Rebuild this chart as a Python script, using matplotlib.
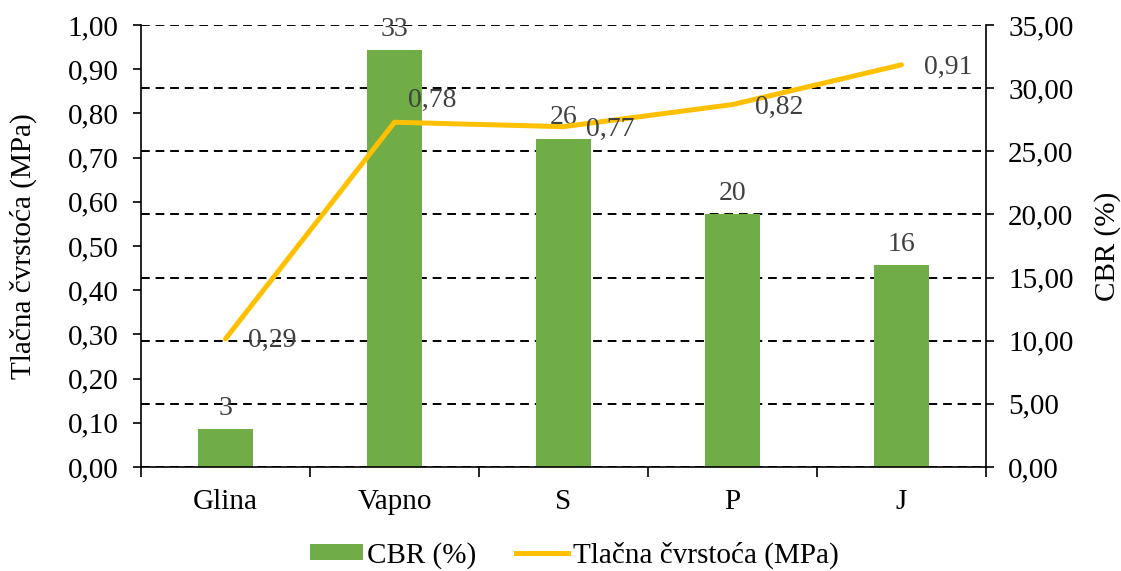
import matplotlib
matplotlib.use("Agg")
import matplotlib.pyplot as plt
from matplotlib.ticker import FuncFormatter, MultipleLocator
from matplotlib.lines import Line2D
from matplotlib.patches import Patch

# Data
categories = ["Glina", "Vapno", "S", "P", "J"]
cbr_values = [3, 33, 26, 20, 16]                   # CBR (%) - right axis
strength_values = [0.29, 0.78, 0.77, 0.82, 0.91]   # Tlačna čvrstoća (MPa) - left axis

bar_color = "#70AD47"
line_color = "#FFC000"
label_color = "#404040"

plt.rcParams["font.family"] = ["Liberation Serif", "DejaVu Serif"]
FS = 21


def comma(v, _pos=None):
    return f"{v:.2f}".replace(".", ",")


fig = plt.figure(figsize=(11.21, 5.71), dpi=100)
ax1 = fig.add_axes([141 / 1121, 1 - 467 / 571, (986 - 141) / 1121, (467 - 25) / 571])
ax2 = ax1.twinx()

# left axis (line) drawn above right axis (bars + grid)
ax1.set_zorder(ax2.get_zorder() + 1)
ax1.patch.set_visible(False)

x = list(range(len(categories)))

# Bars on the CBR axis
ax2.bar(x, cbr_values, width=0.32, color=bar_color, zorder=2)
for xi, v in zip(x, cbr_values):
    ax2.annotate(f"{v}", (xi, v), xytext=(0, 6), textcoords="offset points",
                 ha="center", va="bottom", fontsize=FS - 1, color=label_color, zorder=4)

ax2.set_ylim(0, 35)
ax2.yaxis.set_major_locator(MultipleLocator(5))
ax2.yaxis.set_major_formatter(FuncFormatter(comma))
ax2.set_axisbelow(True)
ax2.grid(axis="y", color="black", linestyle=(0, (4.5, 3)), linewidth=1.4)
ax2.set_ylabel("CBR (%)", fontsize=FS, labelpad=15)
ax2.tick_params(axis="y", labelsize=FS, length=6, width=1.2, pad=10, direction="out")

# Line on the strength axis
ax1.plot(x, strength_values, color=line_color, linewidth=3.6, solid_capstyle="round",
         solid_joinstyle="round", zorder=3)
label_offsets = [(16, -1), (10, 16), (16, -2), (16, -2), (16, -2)]
for xi, v, off in zip(x, strength_values, label_offsets):
    ax1.annotate(comma(v), (xi, v), xytext=off, textcoords="offset points",
                 ha="left", va="center", fontsize=FS - 1, color=label_color)

ax1.set_ylim(0, 1.0)
ax1.yaxis.set_major_locator(MultipleLocator(0.1))
ax1.yaxis.set_major_formatter(FuncFormatter(comma))
ax1.set_ylabel("Tlačna čvrstoća (MPa)", fontsize=FS, labelpad=22)
ax1.tick_params(axis="y", labelsize=FS, length=6, width=1.2, pad=10, direction="out")

ax1.set_xlim(-0.5, len(categories) - 0.5)
ax1.set_xticks(x)
ax1.set_xticklabels(categories, fontsize=FS)
ax1.tick_params(axis="x", length=0, pad=16)
ax1.set_xticks([i - 0.5 for i in range(len(categories) + 1)], minor=True)
ax1.tick_params(axis="x", which="minor", length=7, width=1.2, direction="out")

for ax in (ax1, ax2):
    ax.spines["top"].set_visible(False)
    for s in ("left", "right", "bottom"):
        ax.spines[s].set_linewidth(1.2)
ax2.spines["left"].set_visible(False)
ax2.spines["bottom"].set_visible(False)
ax1.spines["right"].set_visible(False)

handles = [Patch(facecolor=bar_color, edgecolor="none"),
           Line2D([0], [0], color=line_color, linewidth=3.6)]
fig.legend(handles, ["CBR (%)", "Tlačna čvrstoća (MPa)"], loc="center",
           bbox_to_anchor=(574.5 / 1121, 1 - 555 / 571), ncol=2, frameon=False,
           fontsize=FS, handlelength=1.8, handleheight=0.5, handletextpad=0.17,
           columnspacing=1.34)

fig.savefig("out.png", dpi=100)
